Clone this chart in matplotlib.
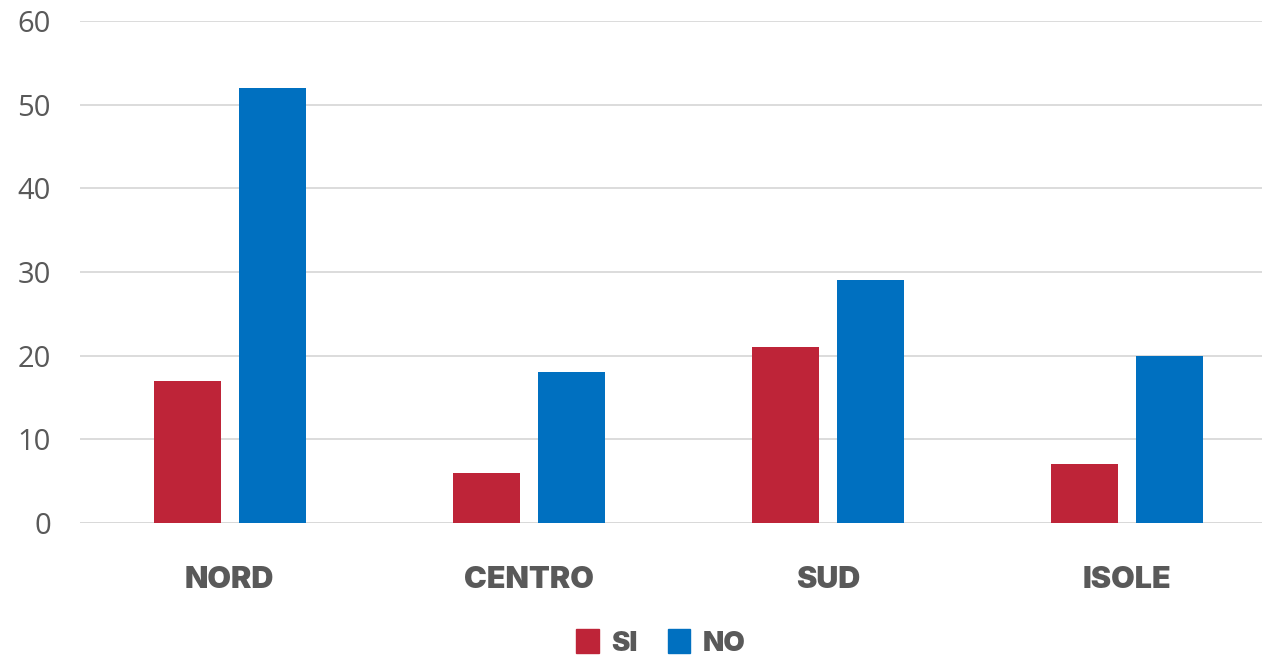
import numpy as np
import matplotlib.pyplot as plt
from matplotlib.patches import Patch

regions = ['NORD', 'CENTRO', 'SUD', 'ISOLE']
si_vals = [17, 6, 21, 7]
no_vals = [52, 18, 29, 20]
yticks = [0, 10, 20, 30, 40, 50, 60]

red = '#BE2438'
blue = '#0070C0'
grey = '#595959'

fig = plt.figure(figsize=(12.63, 6.6), dpi=100)
ax = fig.add_axes([80/1263, 1-523/660, (1262-80)/1263, (523-21)/660])

x = np.arange(len(regions))
w = 0.224
ax.bar(x - 0.142, si_vals, w, color=red, zorder=3)
ax.bar(x + 0.142, no_vals, w, color=blue, zorder=3)

ax.set_xlim(-0.5, 3.45)
ax.set_ylim(0, 60)
ax.set_yticks(yticks)
ax.set_yticklabels([str(v) for v in yticks], fontsize=21, color=grey, family='Open Sans')
ax.yaxis.grid(True, color='#D9D9D9', linewidth=1.3, zorder=0)
ax.tick_params(axis='y', length=0, pad=21)
ax.tick_params(axis='x', length=0, pad=31)
ax.set_xticks(x)
ax.set_xticklabels(regions, fontsize=22, fontweight='black', color=grey, family='Inter')
for s in ax.spines.values():
    s.set_visible(False)
ax.axhline(0, color='#D9D9D9', linewidth=1.3, zorder=2)

handles = [Patch(color=red, label='SI'), Patch(color=blue, label='NO')]
leg = fig.legend(handles=handles, loc='center', bbox_to_anchor=(661/1263, 1-643/660), ncol=2,
                 frameon=False, handlelength=0.8, handleheight=0.9, handletextpad=0.45,
                 columnspacing=1.1, prop={'family': 'Inter', 'weight': 'black', 'size': 20})
for t in leg.get_texts():
    t.set_color(grey)

fig.savefig('out.png', dpi=100)
